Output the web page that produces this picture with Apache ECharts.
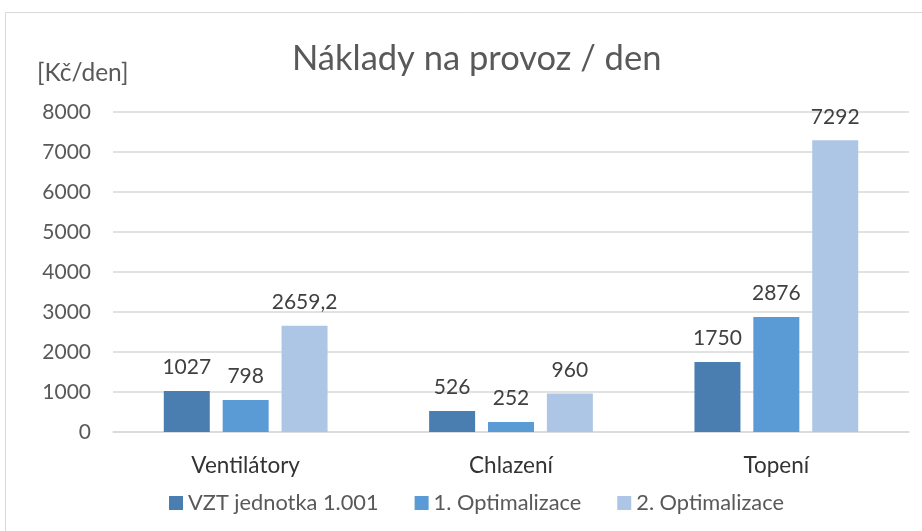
<!DOCTYPE html>
<html>
<head>
<meta charset="utf-8">
<script src="https://cdn.jsdelivr.net/npm/echarts@6/dist/echarts.min.js"></script>
<style>
  html, body { margin: 0; padding: 0; background: #fff; }
  #chart { width: 922px; height: 531px; }
</style>
</head>
<body>
<div id="chart"></div>
<script>
// Daily operating costs per section [Kč/den]
const categories = ['Ventilátory', 'Chlazení', 'Topení'];
const seriesNames = ['VZT jednotka 1.001', '1. Optimalizace', '2. Optimalizace'];
const vztValues = [1027, 526, 1750];
const opt1Values = [798, 252, 2876];
const opt2Values = [2659.2, 960, 7292];
const yTicks = [0, 1000, 2000, 3000, 4000, 5000, 6000, 7000, 8000];

const colors = ['#4a7eb0', '#5b9bd5', '#adc6e5'];
const font = 'Lato, "Open Sans", sans-serif';

const fmt = v => String(v).replace('.', ',');

function makeSeries(name, data, color) {
  return {
    name: name,
    type: 'bar',
    data: data,
    barWidth: 46,
    barGap: '28%',
    itemStyle: { color: color },
    label: {
      show: true,
      position: 'top',
      distance: 13,
      color: '#404040',
      fontFamily: font,
      fontSize: 21,
      formatter: p => fmt(p.value)
    }
  };
}

const chart = echarts.init(document.getElementById('chart'), null, { renderer: 'canvas' });
chart.setOption({
  backgroundColor: '#fff',
  animation: false,
  graphic: [{
    type: 'rect',
    shape: { x: 5.5, y: 12.5, width: 930, height: 530 },
    style: { fill: 'none', stroke: '#d9d9d9', lineWidth: 1 },
    silent: true
  }],
  title: {
    text: 'Náklady na provoz / den',
    left: 287,
    top: 36,
    textStyle: { fontFamily: font, fontSize: 34.5, fontWeight: 'normal', color: '#595959' }
  },
  legend: {
    bottom: 12,
    left: 164,
    itemWidth: 14,
    itemHeight: 14,
    itemGap: 36,
    icon: 'rect',
    textStyle: { fontFamily: font, fontSize: 21.8, color: '#595959' }
  },
  grid: { left: 113, right: 13, top: 112, bottom: 99 },
  xAxis: {
    type: 'category',
    data: categories,
    axisLine: { lineStyle: { color: '#d9d9d9', width: 1.5 } },
    axisTick: { show: false },
    axisLabel: { fontFamily: font, fontSize: 22.5, color: '#333333', margin: 22 }
  },
  yAxis: {
    type: 'value',
    min: yTicks[0],
    max: yTicks[yTicks.length - 1],
    interval: 1000,
    name: '[Kč/den]',
    nameLocation: 'end',
    nameGap: 26,
    nameTextStyle: { fontFamily: font, fontSize: 24.5, color: '#595959', align: 'left', padding: [0, 0, 0, -76] },
    axisLine: { show: false },
    axisTick: { show: false },
    splitLine: { lineStyle: { color: '#d9d9d9', width: 1.5 } },
    axisLabel: { fontFamily: font, fontSize: 21, color: '#595959', margin: 22, formatter: v => String(v) }
  },
  series: [
    makeSeries(seriesNames[0], vztValues, colors[0]),
    makeSeries(seriesNames[1], opt1Values, colors[1]),
    makeSeries(seriesNames[2], opt2Values, colors[2])
  ]
});
</script>
</body>
</html>
